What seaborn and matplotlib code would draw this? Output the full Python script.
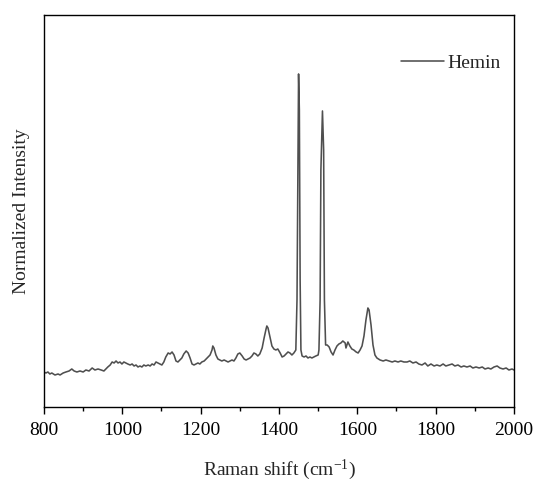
import numpy as np
import pandas as pd
import matplotlib
matplotlib.use("Agg")
import matplotlib.pyplot as plt
from matplotlib.ticker import MultipleLocator
import seaborn as sns

# Raman spectrum of hemin (wavenumber in cm^-1, raw intensity in a.u.)
wavenumber = [
    800, 805, 810, 815, 820, 828, 836, 841, 849, 856, 864, 871, 877, 884, 892, 900,
    907, 915, 923, 930, 938, 946, 953, 958, 963, 969, 974, 979, 984, 989, 994, 999,
    1004, 1009, 1014, 1020, 1025, 1030, 1035, 1040, 1045, 1050, 1055, 1060, 1066, 1071,
    1076, 1081, 1086, 1091, 1096, 1101, 1106, 1111, 1117, 1122, 1127, 1132, 1137, 1142,
    1147, 1152, 1157, 1163, 1168, 1173, 1178, 1183, 1188, 1193, 1198, 1203, 1209, 1214,
    1219, 1224, 1229, 1231, 1234, 1239, 1244, 1249, 1254, 1260, 1265, 1270, 1275, 1280,
    1285, 1290, 1295, 1300, 1306, 1311, 1316, 1321, 1326, 1331, 1336, 1341, 1346, 1351,
    1357, 1362, 1367, 1369, 1372, 1377, 1382, 1387, 1392, 1397, 1403, 1408, 1413, 1418,
    1423, 1428, 1433, 1438, 1443, 1446, 1449, 1450, 1452, 1454, 1456, 1459, 1464, 1469,
    1474, 1479, 1484, 1489, 1494, 1500, 1502, 1505, 1507, 1511, 1514, 1516, 1519, 1523,
    1528, 1533, 1538, 1543, 1548, 1553, 1558, 1563, 1569, 1571, 1576, 1581, 1586, 1591,
    1597, 1602, 1607, 1612, 1617, 1622, 1627, 1630, 1635, 1640, 1645, 1650, 1658, 1666,
    1673, 1681, 1689, 1696, 1704, 1711, 1719, 1727, 1734, 1742, 1750, 1757, 1765, 1773,
    1780, 1788, 1796, 1803, 1811, 1819, 1826, 1834, 1842, 1849, 1857, 1865, 1872, 1880,
    1888, 1895, 1903, 1911, 1919, 1926, 1934, 1941, 1949, 1957, 1964, 1972, 1980, 1987,
    1995, 2000,
]
intensity = [
    35, 34, 35, 33, 34, 32, 33, 32, 34, 35, 36, 38, 36, 35, 36, 35,
    37, 36, 39, 37, 38, 37, 36, 38, 40, 42, 45, 44, 46, 44, 45, 43,
    45, 44, 43, 42, 43, 41, 42, 40, 41, 40, 42, 41, 42, 41,
    43, 42, 45, 44, 43, 42, 45, 50, 54, 53, 55, 52, 46, 45,
    47, 49, 53, 56, 54, 49, 43, 42, 43, 44, 43, 45, 46, 48,
    50, 52, 57, 61, 59, 52, 48, 47, 46, 47, 46, 45, 46, 47,
    46, 49, 53, 54, 51, 48, 47, 48, 49, 51, 54, 53, 51, 53,
    59, 69, 78, 81, 79, 70, 61, 58, 57, 58, 54, 50, 51, 53,
    55, 54, 52, 54, 57, 107, 287, 333, 297, 127, 57, 51, 50, 51,
    49, 50, 49, 50, 51, 52, 57, 107, 237, 296, 257, 107, 62, 62,
    60, 55, 52, 57, 61, 63, 64, 66, 64, 59, 65, 61, 58, 57,
    55, 54, 57, 61, 71, 87, 99, 97, 82, 62, 52, 49, 47, 46,
    47, 46, 45, 46, 45, 46, 45, 45, 46, 44, 45, 43, 42, 44,
    41, 43, 41, 42, 41, 43, 41, 42, 43, 41, 42, 40, 41, 40,
    41, 39, 40, 39, 40, 38, 39, 38, 40, 41, 39, 38, 39, 37,
    38, 37,
]
series_label = "Hemin"
x_ticks = [800, 1000, 1200, 1400, 1600, 1800, 2000]

sns.set_style("ticks")
plt.rcParams["font.family"] = ["Liberation Serif", "DejaVu Serif"]
plt.rcParams["mathtext.fontset"] = "custom"
plt.rcParams["mathtext.rm"] = "Liberation Serif"
plt.rcParams["mathtext.it"] = "Liberation Serif:italic"

df = pd.DataFrame({"wavenumber": wavenumber, "intensity": intensity})
df["normalized"] = df["intensity"] / df["intensity"].max()

fig = plt.figure(figsize=(5.39, 4.84), dpi=100)
ax = fig.add_axes([0.0816, 0.1591, 0.872, 0.8099])

sns.lineplot(data=df, x="wavenumber", y="normalized", ax=ax,
             color="#4f4f4f", linewidth=1.15, label=series_label)

ax.set_xlim(800, 2000)
ax.set_ylim(0, 1.177)
ax.set_xticks(x_ticks)
ax.xaxis.set_minor_locator(MultipleLocator(100))
ax.set_yticks([])

for side in ["left", "right", "top", "bottom"]:
    ax.spines[side].set_visible(True)
    ax.spines[side].set_color("black")
    ax.spines[side].set_linewidth(1.0)

ax.tick_params(axis="x", which="major", direction="out", length=5, width=1.0,
               labelsize=14, pad=6, colors="black")
ax.tick_params(axis="x", which="minor", direction="out", length=3, width=1.0,
               colors="black")

ax.set_xlabel("Raman shift (cm$^{-1}$)", fontsize=14, labelpad=13)
ax.set_ylabel("Normalized Intensity", fontsize=14, labelpad=10)

leg = ax.legend(loc="upper right", frameon=False, fontsize=14,
                handlelength=2.2, handletextpad=0.15,
                bbox_to_anchor=(1.0, 0.935), borderaxespad=0.3)

fig.savefig("out.png", dpi=100)
